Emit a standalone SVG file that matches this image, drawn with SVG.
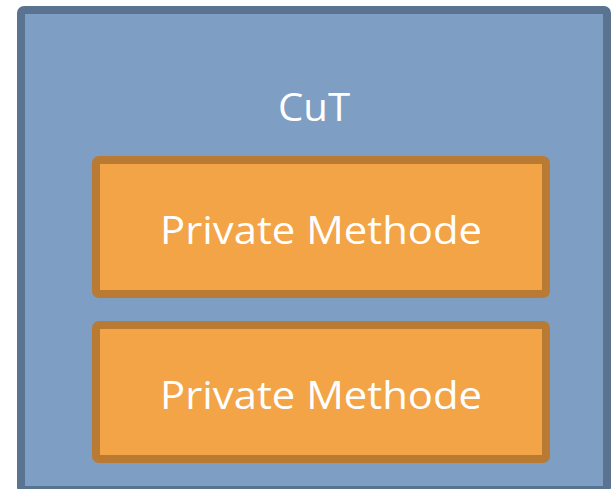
<svg xmlns="http://www.w3.org/2000/svg" width="613" height="489" viewBox="0 0 613 489">
<style>
.lbl{font-family:"Open Sans","Noto Sans",sans-serif;fill:#ffffff;text-anchor:middle}
.meth{fill:#f2a446;stroke:#b97a34;stroke-width:8}
</style>
<rect width="613" height="489" fill="#ffffff"/>
<g id="cut">
<rect x="21" y="10" width="586" height="480" rx="3" fill="#7f9ec4" stroke="#5a7391" stroke-width="8"/>
<text class="lbl" x="314" y="121" font-size="38" textLength="72" lengthAdjust="spacingAndGlyphs">CuT</text>
</g>
<g id="method1">
<rect class="meth" x="96" y="160" width="450" height="134" rx="3"/>
<text class="lbl" x="321" y="244" font-size="38" textLength="322" lengthAdjust="spacingAndGlyphs">Private Methode</text>
</g>
<g id="method2">
<rect class="meth" x="96" y="325" width="450" height="134" rx="3"/>
<text class="lbl" x="321" y="409" font-size="38" textLength="322" lengthAdjust="spacingAndGlyphs">Private Methode</text>
</g>
<g id="connectors"/>
</svg>
